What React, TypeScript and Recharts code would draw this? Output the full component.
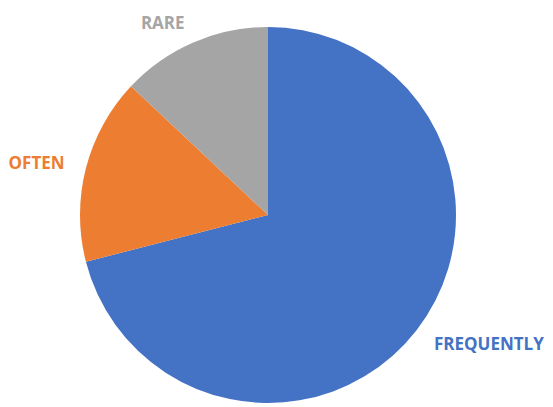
import React from 'react';
import { PieChart, Pie, Cell } from 'recharts';

const categories = ['FREQUENTLY', 'OFTEN', 'RARE'];
const shares = [71, 16, 13];
const colors = ['#4472C4', '#ED7D31', '#A5A5A5'];

const data = categories.map((name, i) => ({ name, value: shares[i] }));

const RADIAN = Math.PI / 180;

const renderLabel = (props: any) => {
  const { cx, cy, midAngle, outerRadius, index } = props;
  const r = outerRadius + 22;
  const x = cx + r * Math.cos(-midAngle * RADIAN);
  const y = cy + r * Math.sin(-midAngle * RADIAN);
  return (
    <text
      x={x}
      y={y}
      fill={colors[index]}
      textAnchor={x > cx ? 'start' : 'end'}
      dominantBaseline="central"
      fontFamily="'Open Sans', sans-serif"
      fontWeight={700}
      fontSize={17}
    >
      {categories[index]}
    </text>
  );
};

const App: React.FC = () => {
  return (
    <div style={{ position: 'absolute', left: 0, top: 0, width: 553, height: 407, background: '#fff' }}>
      <PieChart width={553} height={407} margin={{ top: 0, right: 0, bottom: 0, left: 0 }}>
        <Pie
          data={data}
          dataKey="value"
          nameKey="name"
          cx={268}
          cy={215}
          outerRadius={188}
          startAngle={90}
          endAngle={-270}
          stroke="none"
          label={renderLabel}
          labelLine={false}
          isAnimationActive={false}
        >
          {data.map((d, i) => (
            <Cell key={d.name} fill={colors[i]} />
          ))}
        </Pie>
      </PieChart>
    </div>
  );
};

export default App;
